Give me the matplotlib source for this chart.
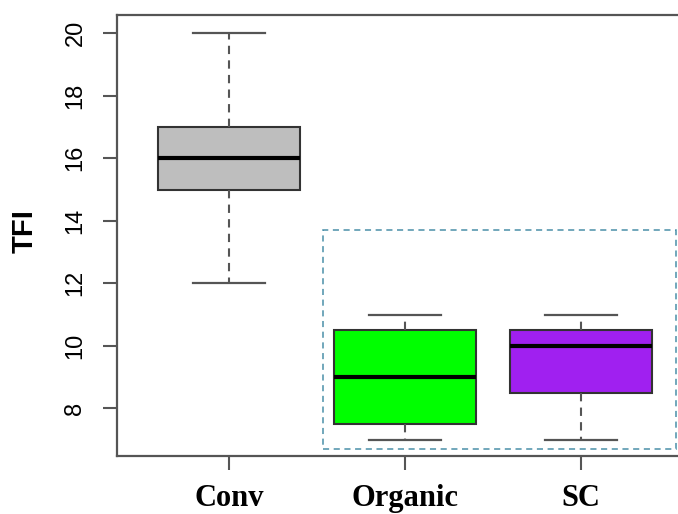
import numpy as np
import matplotlib.pyplot as plt
from matplotlib.patches import Rectangle

# data
groups = ['Conv', 'Organic', 'SC']
whisker_low = [12, 7, 7]
q1 = [15, 7.5, 8.5]
median = [16, 9, 10]
q3 = [17, 10.5, 10.5]
whisker_high = [20, 11, 11]
box_colors = ['#bebebe', '#00ff00', '#a020f0']
yticks = [8, 10, 12, 14, 16, 18, 20]

stats = []
for i in range(len(groups)):
    stats.append(dict(label=groups[i], whislo=whisker_low[i], q1=q1[i],
                      med=median[i], q3=q3[i], whishi=whisker_high[i], fliers=[]))

fig = plt.figure(figsize=(6.78, 5.14), dpi=100)
ax = fig.add_axes([117 / 678, 58 / 514, 576 / 678, 441 / 514])

pos = np.arange(1, len(groups) + 1)
bp = ax.bxp(stats, positions=pos, widths=0.81, patch_artist=True,
            showfliers=False,
            boxprops=dict(edgecolor='#333333', linewidth=1.5),
            medianprops=dict(color='black', linewidth=3),
            whiskerprops=dict(color='#555555', linewidth=1.5, linestyle=(0, (4, 3))),
            capprops=dict(color='#555555', linewidth=1.6),
            capwidths=0.405)
for patch, c in zip(bp['boxes'], box_colors):
    patch.set_facecolor(c)

# dashed frame around the two low groups
ax.add_patch(Rectangle((1.534, 6.69), 3.54 - 1.534, 13.71 - 6.69, fill=False,
                       edgecolor='#4a8fa8', linewidth=1.1, linestyle=(0, (4, 3))))

ax.set_xlim(0.364, 3.636)
ax.set_ylim(6.48, 20.58)
ax.set_yticks(yticks)
ax.set_yticklabels([str(v) for v in yticks], rotation=90, va='center',
                   fontsize=17, family='Liberation Sans')
ax.set_xticks(pos)
ax.set_xticklabels(groups, fontsize=22, family='Liberation Serif', fontweight='bold')
ax.tick_params(axis='y', length=10, width=1.5, color='#555555', pad=12)
ax.tick_params(axis='x', length=10, width=1.5, color='#555555', pad=10)
for s in ax.spines.values():
    s.set_color('#555555')
    s.set_linewidth(1.6)

fig.text(25 / 678, 1 - 231 / 514, 'TFI', rotation=90, ha='center', va='center',
         fontsize=21, fontweight='bold', family='Liberation Sans')

fig.savefig('out.png', dpi=100)
